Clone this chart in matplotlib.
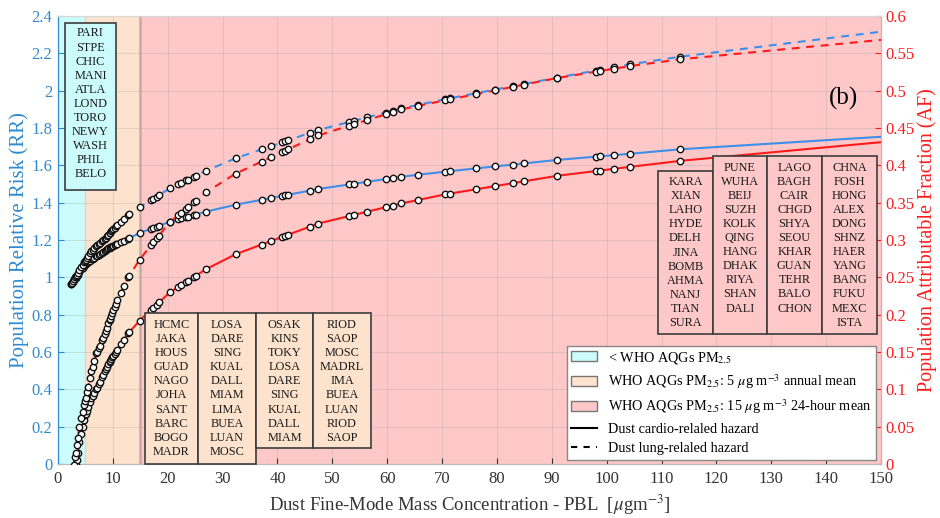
import numpy as np
import matplotlib
matplotlib.use('Agg')
import matplotlib.pyplot as plt
from matplotlib.patches import Patch, Rectangle
from matplotlib.lines import Line2D

plt.rcParams.update({
    'font.family': 'Liberation Serif',
    'mathtext.fontset': 'stix',
    'font.size': 12,
})

# curve knots (concentration, RR and AF)
knot_conc = [2.4, 3.0, 3.5, 4.0, 5.0, 6.0, 7.0, 8.6, 10.7, 12.8, 15.0, 20.4, 27.0,
             32.4, 47.4, 62.6, 70.5, 91.0, 104.3, 113.4, 150.0]
rr_cardio = [0.964, 0.99, 1.01, 1.035, 1.07, 1.095, 1.112, 1.145, 1.18, 1.207, 1.239,
             1.298, 1.352, 1.389, 1.473, 1.539, 1.566, 1.629, 1.662, 1.686, 1.753]
rr_lung = [0.964, 0.995, 1.02, 1.045, 1.09, 1.14, 1.17, 1.209, 1.28, 1.334, 1.378,
           1.477, 1.571, 1.638, 1.789, 1.905, 1.954, 2.070, 2.141, 2.182, 2.316]
af_cardio = [-0.037, -0.01, 0.01, 0.034, 0.065, 0.087, 0.10, 0.126, 0.153, 0.175, 0.193,
             0.230, 0.261, 0.281, 0.322, 0.349, 0.361, 0.386, 0.398, 0.406, 0.431]
af_lung = [-0.037, 0.005, 0.03, 0.055, 0.085, 0.122, 0.148, 0.176, 0.219, 0.25, 0.275,
           0.324, 0.364, 0.389, 0.440, 0.475, 0.487, 0.517, 0.533, 0.542, 0.568]

# dust concentration of each city (markers)
city_conc = [2.4, 2.5, 2.7, 2.9, 3.1, 3.2, 3.4, 3.6, 3.9, 4.2, 4.5,
             4.8, 5.0, 5.1, 5.3, 5.5, 5.8, 6.1, 6.3, 6.6, 7.0, 7.1, 7.4, 7.6, 8.0,
             8.2, 8.5, 8.7, 8.9, 9.2, 9.4, 9.5, 9.7, 9.9, 10.1, 10.3, 10.5, 10.7,
             11.4, 12.0, 12.8, 13.0,
             14.9, 16.95, 17.4, 18.0, 18.4, 20.4, 21.9, 22.5, 23.4, 23.7, 24.8, 25.1,
             27.0, 32.4, 37.1, 38.9, 40.8, 41.4, 42.0, 45.9, 47.4, 53.1, 54.0, 56.4,
             59.7, 61.0, 62.6, 65.7, 70.5, 71.4, 76.2, 79.6, 82.9, 85.0, 91.0, 98.1,
             98.7, 101.3, 104.3, 113.4]

cities_cyan = ['PARI', 'STPE', 'CHIC', 'MANI', 'ATLA', 'LOND', 'TORO', 'NEWY', 'WASH',
               'PHIL', 'BELO']
cities_tan = [
    ['HCMC', 'JAKA', 'HOUS', 'GUAD', 'NAGO', 'JOHA', 'SANT', 'BARC', 'BOGO', 'MADR'],
    ['LOSA', 'DARE', 'SING', 'KUAL', 'DALL', 'MIAM', 'LIMA', 'BUEA', 'LUAN', 'MOSC'],
    ['OSAK', 'KINS', 'TOKY', 'LOSA', 'DARE', 'SING', 'KUAL', 'DALL', 'MIAM'],
    ['RIOD', 'SAOP', 'MOSC', 'MADRL', 'IMA', 'BUEA', 'LUAN', 'RIOD', 'SAOP'],
]
cities_pink = [
    ['KARA', 'XIAN', 'LAHO', 'HYDE', 'DELH', 'JINA', 'BOMB', 'AHMA', 'NANJ', 'TIAN', 'SURA'],
    ['PUNE', 'WUHA', 'BEIJ', 'SUZH', 'KOLK', 'QING', 'HANG', 'DHAK', 'RIYA', 'SHAN', 'DALI'],
    ['LAGO', 'BAGH', 'CAIR', 'CHGD', 'SHYA', 'SEOU', 'KHAR', 'GUAN', 'TEHR', 'BALO', 'CHON'],
    ['CHNA', 'FOSH', 'HONG', 'ALEX', 'DONG', 'SHNZ', 'HAER', 'YANG', 'BANG', 'FUKU', 'MEXC', 'ISTA'],
]

BLUE = '#3d8fea'
BLUE_TXT = '#2f8ad0'
RED = '#ff1a1a'
CYAN = '#ccfbfb'
TAN = '#fde3cd'
PINK = '#fec8c8'
W, H = 940, 518

fig = plt.figure(figsize=(W / 100, H / 100), dpi=100)
ax = fig.add_axes([58 / W, 54 / H, 823 / W, 448 / H])
ax2 = ax.twinx()

# WHO guideline regions
ax.axvspan(0, 5, color=CYAN, lw=0, zorder=0)
ax.axvspan(5, 15, color=TAN, lw=0, zorder=0)
ax.axvspan(15, 150, color=PINK, lw=0, zorder=0)
ax.axvline(5, color='#ead2c4', lw=1.0, zorder=0.5)
ax.axvline(15, color='#c9a9a6', lw=1.8, zorder=0.5)
ax.grid(True, color='#a0a0a0', alpha=0.3, lw=0.7)
ax.set_axisbelow(True)

mk = dict(ls='none', marker='o', ms=4.6, mfc='white', mec='#111111', mew=1.0, zorder=4)
conc = np.array(city_conc)
dash = (0, (3.8, 3.2))

ax.plot(knot_conc, rr_cardio, color=BLUE, lw=1.5, zorder=3)
ax.plot(knot_conc, rr_lung, color=BLUE, lw=1.5, ls=dash, zorder=3)
ax.plot(conc, np.interp(conc, knot_conc, rr_cardio), **mk)
ax.plot(conc, np.interp(conc, knot_conc, rr_lung), **mk)

ax2.plot(knot_conc, af_cardio, color=RED, lw=1.5, zorder=3)
ax2.plot(knot_conc, af_lung, color=RED, lw=1.5, ls=dash, zorder=3)
ax2.plot(conc, np.interp(conc, knot_conc, af_cardio), **mk)
ax2.plot(conc, np.interp(conc, knot_conc, af_lung), **mk)

ax.set_xlim(0, 150)
ax.set_ylim(0, 2.4)
ax2.set_ylim(0, 0.6)
ax.set_xticks(np.arange(0, 151, 10))
ax.set_yticks(np.arange(0, 2.41, 0.2))
ax2.set_yticks(np.arange(0, 0.601, 0.05))
ax.set_yticklabels(['0', '0.2', '0.4', '0.6', '0.8', '1', '1.2', '1.4', '1.6', '1.8',
                    '2', '2.2', '2.4'])
ax2.set_yticklabels(['0', '0.05', '0.1', '0.15', '0.2', '0.25', '0.3', '0.35', '0.4',
                     '0.45', '0.5', '0.55', '0.6'])

ax.tick_params(axis='x', direction='in', length=4, labelsize=12, colors='#333333', pad=5)
ax.tick_params(axis='y', direction='in', length=4, labelsize=12, colors=BLUE_TXT, pad=4)
ax2.tick_params(axis='y', direction='in', length=4, labelsize=12, colors=RED, pad=3)

for a in (ax, ax2):
    a.spines['top'].set_color('#d8d8d8')
    a.spines['bottom'].set_color('#bbbbbb')
    a.spines['left'].set_color(BLUE_TXT)
    a.spines['right'].set_color('#ff9a9a')

ax.set_xlabel(r'Dust Fine-Mode Mass Concentration - PBL  [$\mu$gm$^{-3}$]',
              fontsize=13.5, color='#333333', labelpad=4)
ax.set_ylabel('Population Relative Risk (RR)', fontsize=15, color=BLUE_TXT, labelpad=2)
ax2.set_ylabel('Population Attributable Fraction (AF)', fontsize=14.5, color=RED,
               labelpad=2)

ax2.text(0.955, 0.815, '(b)', transform=ax2.transAxes, fontsize=18,
         ha='center', va='center')


def city_box(x0, x1, y0, y1, fc, names, first_row, step=14.1):
    fig.add_artist(Rectangle((x0 / W, 1 - y1 / H), (x1 - x0) / W, (y1 - y0) / H,
                             transform=fig.transFigure, fc=fc, ec='#3c3c3c',
                             lw=1.2, zorder=5))
    for i, name in enumerate(names):
        fig.text((x0 + x1) / 2 / W, 1 - (first_row + i * step) / H, name,
                 ha='center', va='center', fontsize=8.8, color='#1a1a1a', zorder=6)


city_box(65, 116, 23, 190, CYAN, cities_cyan, 33.5)
city_box(145, 198, 313, 464, TAN, cities_tan[0], 324.5, 14.2)
city_box(198, 256, 313, 464, TAN, cities_tan[1], 324.5, 14.2)
city_box(256, 313, 313, 448, TAN, cities_tan[2], 324.5, 14.2)
city_box(313, 371, 313, 448, TAN, cities_tan[3], 324.5, 14.2)
city_box(658, 713, 171, 334, PINK, cities_pink[0], 182)
city_box(713, 767, 156, 334, PINK, cities_pink[1], 167.5)
city_box(767, 822, 156, 334, PINK, cities_pink[2], 167.5)
city_box(822, 877, 156, 334, PINK, cities_pink[3], 167.5)

handles = [
    Patch(fc=CYAN, ec='#777777'),
    Patch(fc=TAN, ec='#777777'),
    Patch(fc=PINK, ec='#777777'),
    Line2D([], [], color='black', lw=1.5),
    Line2D([], [], color='black', lw=1.5, ls=(0, (3, 3))),
]
labels = [
    r'< WHO AQGs PM$_{2.5}$',
    r'WHO AQGs PM$_{2.5}$: 5 $\mu$g m$^{-3}$ annual mean',
    r'WHO AQGs PM$_{2.5}$: 15 $\mu$g m$^{-3}$ 24-hour mean',
    'Dust cardio-relaled hazard',
    'Dust lung-relaled hazard',
]
leg = ax2.legend(handles, labels, loc='lower right', bbox_to_anchor=(0.994, 0.01),
                 fontsize=10.3, frameon=True, fancybox=False, framealpha=1,
                 edgecolor='#888888', borderpad=0.3, labelspacing=0.45,
                 handlelength=1.8, handletextpad=0.8, borderaxespad=0)
leg.get_frame().set_linewidth(1.0)
leg.set_zorder(10)

fig.savefig('out.png', dpi=100)
